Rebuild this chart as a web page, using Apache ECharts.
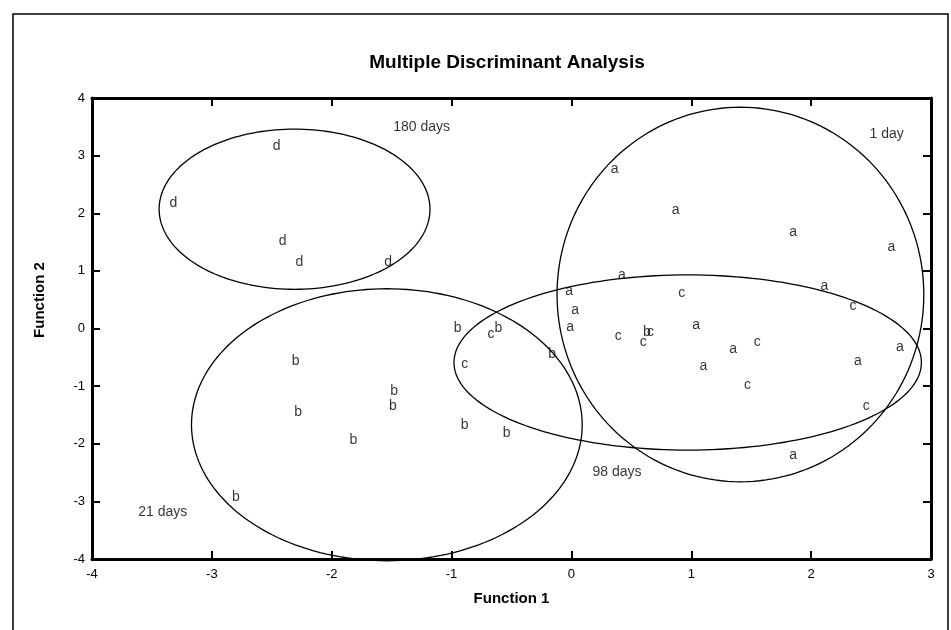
<!DOCTYPE html>
<html>
<head>
<meta charset="utf-8">
<script src="https://cdn.jsdelivr.net/npm/echarts@6/dist/echarts.min.js"></script>
<style>
  html, body { margin: 0; background: #fff; }
  #chart { width: 951px; height: 630px; }
</style>
</head>
<body>
<div id="chart"></div>
<script>
  // discriminant scores, one list per sampling time
  const pointsA = [[0.36, 2.76], [0.87, 2.05], [1.85, 1.68], [2.67, 1.41], [0.42, 0.92],
    [2.11, 0.73], [-0.02, 0.64], [0.03, 0.31], [-0.01, 0.03], [1.04, 0.05], [1.35, -0.36],
    [1.10, -0.66], [2.39, -0.56], [2.74, -0.33], [1.85, -2.19]];
  const pointsB = [[-2.30, -0.57], [-2.28, -1.46], [-1.48, -1.08], [-1.49, -1.35], [-1.82, -1.94],
    [-0.89, -1.68], [-0.54, -1.81], [-0.95, 0.0], [-0.61, 0.0], [-0.16, -0.45], [-2.80, -2.93],
    [0.63, -0.07]];
  const pointsC = [[-0.89, -0.61], [-0.67, -0.10], [0.39, -0.14], [0.66, -0.07], [0.60, -0.23],
    [0.92, 0.61], [1.55, -0.24], [1.47, -0.99], [2.35, 0.38], [2.46, -1.35]];
  const pointsD = [[-2.46, 3.16], [-3.32, 2.17], [-2.41, 1.51], [-2.27, 1.15], [-1.53, 1.16]];

  // group ellipses: centre x, centre y, radius x, radius y
  const ellipses = [[1.41, 0.59, 1.53, 3.25], [-1.54, -1.67, 1.63, 2.36],
    [0.97, -0.59, 1.95, 1.52], [-2.31, 2.07, 1.13, 1.39]];

  const groupLabels = [[-1.25, 3.49, '180 days'], [2.63, 3.38, '1 day'],
    [0.38, -2.50, '98 days'], [-3.41, -3.19, '21 days']];

  const font = 'Liberation Sans, Arial, Helvetica, sans-serif';

  let chart = echarts.init(document.getElementById('chart'));

  function letters(name, data) {
    return {
      name: name,
      type: 'scatter',
      data: data,
      symbolSize: 1,
      itemStyle: { color: 'rgba(0,0,0,0)' },
      label: {
        show: true,
        position: 'inside',
        formatter: name,
        color: '#000',
        fontSize: 14,
        fontFamily: font
      },
      z: 5
    };
  }

  function renderEllipse(params, api) {
    const cx = api.value(0), cy = api.value(1), rx = api.value(2), ry = api.value(3);
    let pts = [];
    for (let i = 0; i <= 180; i++) {
      const t = i / 180 * Math.PI * 2;
      pts.push(api.coord([cx + rx * Math.cos(t), cy + ry * Math.sin(t)]));
    }
    return {
      type: 'polyline',
      shape: { points: pts },
      style: { stroke: '#000', fill: null, lineWidth: 1.3 }
    };
  }

  const axisCommon = {
    type: 'value',
    axisLine: { show: true, onZero: false, lineStyle: { color: '#000', width: 3 } },
    axisTick: { show: true, inside: true, length: 8, lineStyle: { color: '#000', width: 2 } },
    splitLine: { show: false }
  };

  let option = {
    animation: false,
    backgroundColor: '#fff',
    title: {
      text: 'Multiple Discriminant Analysis',
      left: 502,
      top: 48,
      textAlign: 'center',
      textStyle: { fontSize: 19, fontWeight: 'bold', color: '#000', fontFamily: font }
    },
    grid: { left: 92, right: 20, top: 98, bottom: 71 },
    xAxis: [
      Object.assign({}, axisCommon, {
        position: 'bottom', min: -4, max: 3, interval: 1,
        axisLabel: { color: '#000', fontSize: 13, margin: 9, fontFamily: font },
        name: 'Function 1', nameLocation: 'middle', nameGap: 32,
        nameTextStyle: { fontSize: 15, fontWeight: 'bold', color: '#000', fontFamily: font }
      }),
      Object.assign({}, axisCommon, {
        position: 'top', min: -4, max: 3, interval: 1, axisLabel: { show: false }
      })
    ],
    yAxis: [
      Object.assign({}, axisCommon, {
        position: 'left', min: -4, max: 4, interval: 1,
        axisLabel: { color: '#000', fontSize: 13, margin: 7, fontFamily: font }
      }),
      Object.assign({}, axisCommon, {
        position: 'right', min: -4, max: 4, interval: 1, axisLabel: { show: false }
      })
    ],
    graphic: [
      {
        type: 'rect',
        shape: { x: 13, y: 14, width: 935, height: 630 },
        style: { fill: null, stroke: '#000', lineWidth: 1.5 },
        silent: true
      },
      {
        type: 'text',
        x: 40, y: 300,
        rotation: Math.PI / 2,
        style: {
          text: 'Function 2', align: 'center', verticalAlign: 'middle',
          font: 'bold 15px ' + font, fill: '#000'
        }
      }
    ],
    series: [
      {
        type: 'custom',
        renderItem: renderEllipse,
        data: ellipses,
        clip: false,
        silent: true,
        z: 3
      },
      letters('a', pointsA),
      letters('b', pointsB),
      letters('c', pointsC),
      letters('d', pointsD),
      {
        type: 'scatter',
        data: groupLabels,
        symbolSize: 1,
        itemStyle: { color: 'rgba(0,0,0,0)' },
        label: {
          show: true,
          position: 'inside',
          formatter: p => p.data[2],
          color: '#000',
          fontSize: 14,
          fontFamily: font
        }
      }
    ]
  };

  chart.setOption(option);
</script>
</body>
</html>
